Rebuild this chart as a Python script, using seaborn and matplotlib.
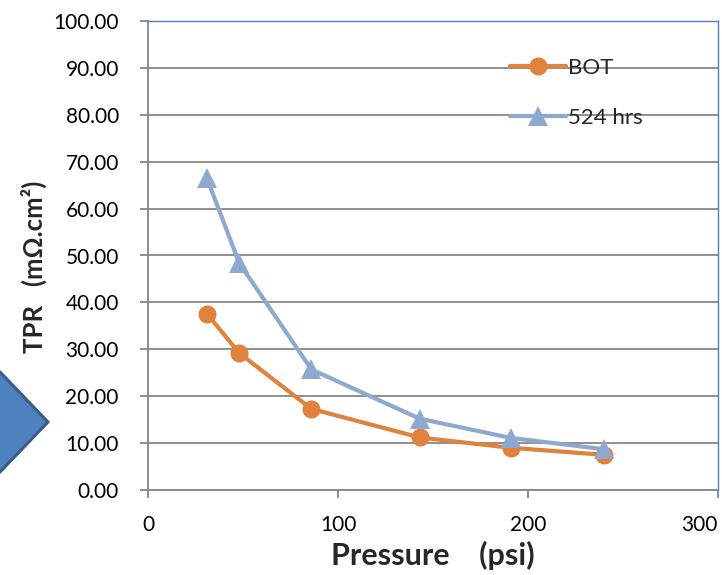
import numpy as np
import pandas as pd
import matplotlib
matplotlib.use('Agg')
import matplotlib.pyplot as plt
import seaborn as sns
from matplotlib.patches import Polygon

# data
pressure = [31, 48, 86, 143, 191, 240]
tpr_bot = [37.6, 29.2, 17.3, 11.2, 9.0, 7.5]
tpr_524 = [66.5, 48.4, 25.7, 15.2, 11.1, 8.7]
series_names = ['BOT', '524 hrs']
y_ticks = np.arange(0, 101, 10)
x_ticks = [0, 100, 200, 300]

df = pd.DataFrame({
    'Pressure': pressure * 2,
    'TPR': tpr_bot + tpr_524,
    'Series': [series_names[0]] * len(pressure) + [series_names[1]] * len(pressure),
})

sns.set_style("white")
plt.rcParams['font.family'] = ['Lato', 'DejaVu Sans']

colors = {'BOT': '#E0813C', '524 hrs': '#8EA8D0'}
markers = {'BOT': 'o', '524 hrs': '^'}

fig = plt.figure(figsize=(7.22, 5.75), dpi=100)
ax = fig.add_axes([148 / 722, 85 / 575, 570 / 722, 469 / 575])

for name in series_names:
    sub = df[df['Series'] == name]
    sns.lineplot(data=sub, x='Pressure', y='TPR', ax=ax, color=colors[name],
                 marker=markers[name], markersize=13 if name == 'BOT' else 14,
                 markeredgewidth=0, linewidth=3, label=name, zorder=3)

ax.set_xlim(0, 300)
ax.set_ylim(0, 100)
ax.set_xticks(x_ticks)
ax.set_yticks(y_ticks)
ax.set_yticklabels([f'{v:.2f}' for v in y_ticks])
ax.grid(axis='y', color='#878787', linewidth=1.3)
ax.grid(axis='x', visible=False)
ax.tick_params(axis='both', labelsize=15, colors='#878787', labelcolor='black',
               length=6, width=1.3, direction='out', left=True, bottom=True)
ax.tick_params(axis='x', pad=12)
ax.tick_params(axis='y', pad=15)
# Excel pulls the last x label inside the chart area
ax.get_xticklabels()[-1].set_horizontalalignment('right')

for side in ['left', 'bottom']:
    ax.spines[side].set_color('#878787')
    ax.spines[side].set_linewidth(1.3)
for side in ['top', 'right']:
    ax.spines[side].set_color('#4F81BD')
    ax.spines[side].set_linewidth(1.0)

ax.set_xlabel('Pressure    (psi)', fontsize=22, fontweight='bold', labelpad=4)
ax.set_ylabel('TPR   (mΩ.cm²)', fontsize=18.5, fontweight='bold')
ax.yaxis.set_label_coords(-0.178, 0.475)

leg = ax.legend(loc='upper left', bbox_to_anchor=(0.62, 0.94), frameon=False,
                fontsize=16, handlelength=2.5, handletextpad=0.1,
                labelspacing=1.35, borderaxespad=0)

# the blue arrow shape partly visible at the left edge
arrow = Polygon([(-30, 575 - 372), (0, 575 - 372), (48, 575 - 422),
                 (0, 575 - 472), (-30, 575 - 472)], closed=True,
                facecolor='#4F81BD', edgecolor='#385D8A', linewidth=2.2,
                transform=None, zorder=1)
fig.patches.append(arrow)

fig.savefig('out.png', dpi=100)
plt.close(fig)
